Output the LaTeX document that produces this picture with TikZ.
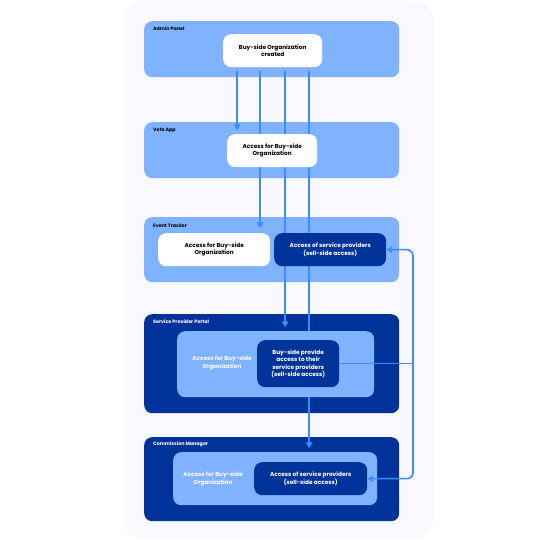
\documentclass[tikz,border=0pt]{standalone}
\usepackage{fontspec}
\setmainfont{Poppins}
\usetikzlibrary{arrows.meta,calc}
\definecolor{bgc}{HTML}{F8F8FE}
\definecolor{lightb}{HTML}{80B3FF}
\definecolor{navy}{HTML}{00339A}
\definecolor{arrc}{HTML}{3D8BFF}
\begin{document}
\begin{tikzpicture}[x=1pt,y=-1pt,
  panel/.style={anchor=north west,rounded corners=8pt,inner sep=0pt},
  lpanel/.style={panel,fill=lightb},
  npanel/.style={panel,fill=navy},
  boxw/.style={anchor=north west,rounded corners=8pt,inner sep=0pt,fill=white,
     font=\bfseries\fontsize{5.8}{7.2}\selectfont,align=center,text=black},
  boxn/.style={boxw,fill=navy,text=white},
  boxl/.style={anchor=north west,rounded corners=8pt,inner sep=0pt,fill=lightb},
  ptitle/.style={anchor=west,font=\bfseries\fontsize{4.8}{5}\selectfont,inner sep=0pt},
  wtext/.style={font=\bfseries\fontsize{5.8}{7.2}\selectfont,align=center,text=white,inner sep=0pt},
  conn/.style={draw=arrc,line width=1.6pt},
  arrow/.style={conn,-{Triangle[length=5.5pt,width=6.5pt]}}
]
\useasboundingbox (0,0) rectangle (558,540);
\fill[bgc,rounded corners=20pt] (124,1) rectangle (433,539);

% panels
\node[lpanel,minimum width=255pt,minimum height=56pt] (admin) at (144,21) {};
\node[lpanel,minimum width=255pt,minimum height=56pt] (vote) at (144,122) {};
\node[lpanel,minimum width=255pt,minimum height=65pt] (event) at (144,217) {};
\node[npanel,minimum width=255pt,minimum height=99pt] (spp) at (144,314) {};
\node[npanel,minimum width=255pt,minimum height=84pt] (cm) at (144,437) {};

\node[ptitle] (tadmin) at (153,29) {Admin Panel};
\node[ptitle] (tvote) at (153,130) {Vote App};
\node[ptitle] (tevent) at (153,226) {Event Tracker};
\node[ptitle,text=white] (tspp) at (153,322) {Service Provider Portal};
\node[ptitle,text=white] (tcm) at (153,444) {Commission Manager};

\node[boxw,minimum width=99pt,minimum height=33pt] (created) at (223,34) {Buy-side Organization\\created};

% connectors
\draw[arrow] ($(created.south)+(-35.5,4)$) -- ($(vote.north)+(-34.5,8)$);
\draw[arrow] ($(created.south)+(-12.5,4)$) -- ($(event.north)+(-11.5,11)$);
\draw[arrow] ($(created.south)+(12.5,4)$) -- ($(spp.north)+(13.5,13)$);
\draw[arrow] ($(created.south)+(36.5,4)$) -- ($(cm.north)+(37.5,11)$);

% boxes above connectors
\node[boxw,minimum width=90pt,minimum height=33pt] (vaccess) at (227,134) {Access for Buy-side\\Organization};
\node[boxw,minimum width=112pt,minimum height=33pt] (eaccess) at (158,233) {Access for Buy-side\\Organization};
\node[boxn,minimum width=112pt,minimum height=33pt] (eprov) at (274,233) {Access of service providers\\(sell-side access)};

\node[boxl,minimum width=197pt,minimum height=66pt] (sinner) at (177,331) {};
\node[wtext] (stext) at (222,363) {Access for Buy-side\\Organization};
\node[boxn,minimum width=82pt,minimum height=47pt] (sprov) at (257,340) {Buy-side provide\\access to their\\service providers\\(sell-side access)};

\node[boxl,minimum width=204pt,minimum height=53pt] (cinner) at (173,452) {};
\node[wtext] (ctext) at (213,479) {Access for Buy-side\\Organization};
\node[boxn,minimum width=113pt,minimum height=33pt] (cprov) at (254,462) {Access of service providers\\(sell-side access)};

% right rail
\coordinate (rail) at (413,0);
\draw[conn] (sprov.east) -- (sprov.east -| rail);
\draw[arrow,rounded corners=6pt] (sprov.east -| rail) |- (eprov.east);
\draw[arrow,rounded corners=6pt] (sprov.east -| rail) |- (cprov.east);
\end{tikzpicture}
\end{document}
